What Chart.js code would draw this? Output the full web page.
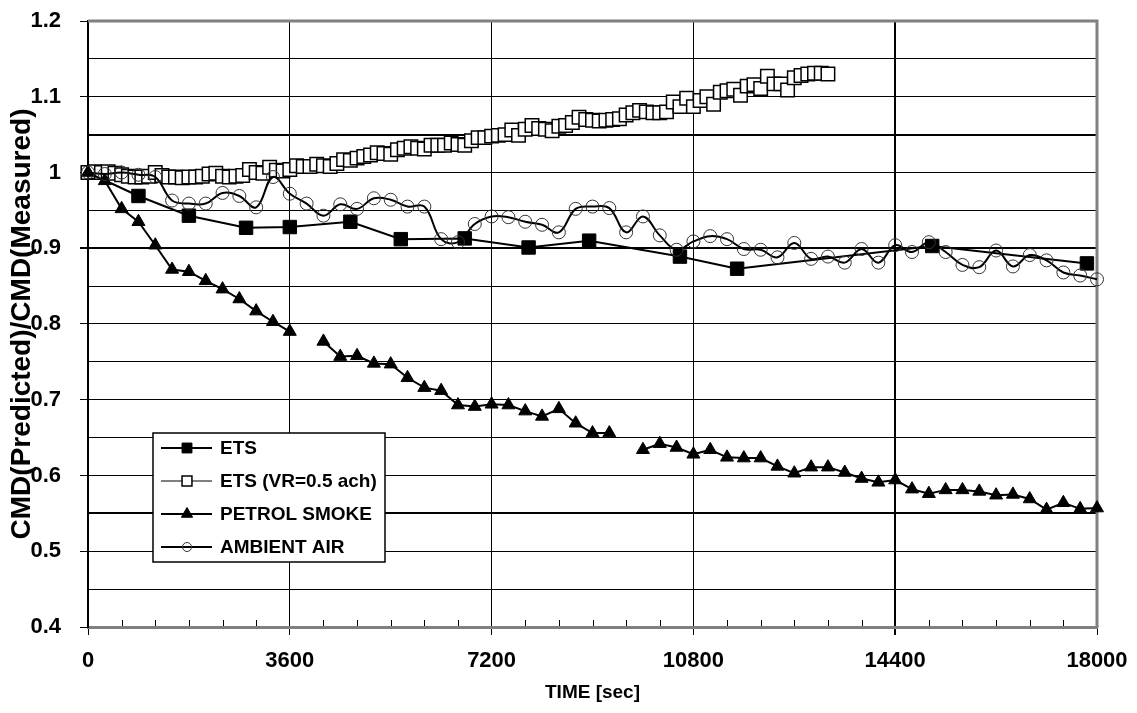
<!DOCTYPE html>
<html>
<head>
<meta charset="utf-8">
<script src="https://cdn.jsdelivr.net/npm/chart.js@4.4.1/dist/chart.umd.min.js"></script>
<style>
  html, body { margin: 0; padding: 0; background: #fff; }
  #wrap { width: 1137px; height: 713px; }
</style>
</head>
<body>
<div id="wrap"><canvas id="chart" width="1137" height="713"></canvas></div>
<script>
// series labels, as in the legend
var seriesNames = ["ETS", "ETS (VR=0.5 ach)", "PETROL SMOKE", "AMBIENT AIR"];

// ETS (filled squares) - irregular sample times
var etsTime = [0, 900, 1800, 2820, 3600, 4680, 5580, 6720, 7860, 8940, 10560, 11580, 15060, 17820];
var etsVal  = [1.000, 0.969, 0.943, 0.927, 0.928, 0.935, 0.912, 0.913, 0.901, 0.910, 0.889, 0.873, 0.903, 0.880];

// ETS (VR=0.5 ach) - open squares, read every 120 s
var etsVrTime = [0, 120, 240, 360, 480, 600, 720, 840, 960, 1080,
  1200, 1320, 1440, 1560, 1680, 1800, 1920, 2040, 2160, 2280,
  2400, 2520, 2640, 2760, 2880, 3000, 3120, 3240, 3360, 3480,
  3600, 3720, 3840, 3960, 4080, 4200, 4320, 4440, 4560, 4680,
  4800, 4920, 5040, 5160, 5280, 5400, 5520, 5640, 5760, 5880,
  6000, 6120, 6240, 6360, 6480, 6600, 6720, 6840, 6960, 7080,
  7200, 7320, 7440, 7560, 7680, 7800, 7920, 8040, 8160, 8280,
  8400, 8520, 8640, 8760, 8880, 9000, 9120, 9240, 9360, 9480,
  9600, 9720, 9840, 9960, 10080, 10200, 10320, 10440, 10560, 10680,
  10800, 10920, 11040, 11160, 11280, 11400, 11520, 11640, 11760, 11880,
  12000, 12120, 12240, 12360, 12480, 12600, 12720, 12840, 12960, 13080, 13200];
var etsVrVal = [1.000, 1.001, 1.000, 1.001, 0.999, 0.997, 0.995, 0.994, 0.994, 0.995,
  1.000, 0.996, 0.994, 0.994, 0.993, 0.994, 0.994, 0.995, 0.998, 0.999,
  0.995, 0.994, 0.995, 0.996, 1.004, 1.000, 0.999, 1.007, 1.003, 1.002,
  1.004, 1.009, 1.008, 1.008, 1.011, 1.009, 1.008, 1.012, 1.017, 1.016,
  1.019, 1.021, 1.023, 1.026, 1.025, 1.024, 1.030, 1.032, 1.034, 1.032,
  1.031, 1.036, 1.036, 1.036, 1.039, 1.037, 1.036, 1.042, 1.046, 1.046,
  1.048, 1.049, 1.050, 1.056, 1.049, 1.057, 1.062, 1.058, 1.057, 1.055,
  1.061, 1.062, 1.066, 1.073, 1.070, 1.069, 1.068, 1.069, 1.070, 1.071,
  1.076, 1.079, 1.082, 1.080, 1.079, 1.079, 1.080, 1.093, 1.087, 1.098,
  1.087, 1.095, 1.100, 1.090, 1.106, 1.108, 1.110, 1.102, 1.114, 1.116,
  1.111, 1.127, 1.117, 1.117, 1.109, 1.125, 1.128, 1.130, 1.131, 1.131, 1.130];

// PETROL SMOKE (triangles), every 300 s, null = missing reading
var petrolTime = [0, 300, 600, 900, 1200, 1500, 1800, 2100, 2400, 2700,
  3000, 3300, 3600, 3900, 4200, 4500, 4800, 5100, 5400, 5700,
  6000, 6300, 6600, 6900, 7200, 7500, 7800, 8100, 8400, 8700,
  9000, 9300, 9600, 9900, 10200, 10500, 10800, 11100, 11400, 11700,
  12000, 12300, 12600, 12900, 13200, 13500, 13800, 14100, 14400, 14700,
  15000, 15300, 15600, 15900, 16200, 16500, 16800, 17100, 17400, 17700, 18000];
var petrolVal = [1.000, 0.989, 0.952, 0.935, 0.904, 0.872, 0.869, 0.857, 0.846, 0.833,
  0.817, 0.803, 0.790, null, 0.777, 0.757, 0.758, 0.748, 0.747, 0.729,
  0.716, 0.712, 0.693, 0.691, 0.694, 0.693, 0.685, 0.678, 0.688, 0.669,
  0.656, 0.656, null, 0.634, 0.642, 0.637, 0.628, 0.634, 0.624, 0.623,
  0.623, 0.612, 0.603, 0.611, 0.611, 0.604, 0.596, 0.591, 0.594, 0.582,
  0.576, 0.581, 0.581, 0.579, 0.574, 0.575, 0.569, 0.555, 0.564, 0.556, 0.557];

// AMBIENT AIR (open circles), every 300 s
var ambientTime = [0, 300, 600, 900, 1200, 1500, 1800, 2100, 2400, 2700,
  3000, 3300, 3600, 3900, 4200, 4500, 4800, 5100, 5400, 5700,
  6000, 6300, 6600, 6900, 7200, 7500, 7800, 8100, 8400, 8700,
  9000, 9300, 9600, 9900, 10200, 10500, 10800, 11100, 11400, 11700,
  12000, 12300, 12600, 12900, 13200, 13500, 13800, 14100, 14400, 14700,
  15000, 15300, 15600, 15900, 16200, 16500, 16800, 17100, 17400, 17700, 18000];
var ambientVal = [1.000, 0.998, 1.000, 0.997, 0.994, 0.963, 0.959, 0.959, 0.973, 0.969,
  0.954, 0.994, 0.972, 0.959, 0.943, 0.958, 0.952, 0.966, 0.964, 0.955,
  0.955, 0.912, 0.908, 0.932, 0.942, 0.941, 0.935, 0.931, 0.921, 0.952,
  0.955, 0.953, 0.921, 0.942, 0.917, 0.898, 0.909, 0.916, 0.912, 0.899,
  0.898, 0.888, 0.907, 0.886, 0.889, 0.881, 0.899, 0.881, 0.904, 0.895,
  0.908, 0.895, 0.878, 0.875, 0.897, 0.876, 0.891, 0.884, 0.868, 0.864, 0.859];

// axis settings
var xMin = 0, xMax = 18000, xMajor = 3600, xMinor = 600;
var yMin = 0.4, yMax = 1.2, yGridStep = 0.05;
var yBoldLines = [1.05, 0.9, 0.55];
var xBoldLines = [14400];

var FONT = "'Liberation Sans', Arial, sans-serif";

function pairs(xs, ys) {
  var out = [];
  for (var i = 0; i < xs.length; i++) {
    out.push({ x: xs[i], y: ys[i] });
  }
  return out;
}

function isOn(v, list) {
  for (var i = 0; i < list.length; i++) {
    if (Math.abs(v - list[i]) < 1e-6) return true;
  }
  return false;
}

// white legend box inside the plot, plus the gray frame and minor x ticks
var extras = {
  id: 'extras',
  beforeDatasetsDraw: function(chart) {
    var ctx = chart.ctx, a = chart.chartArea;
    ctx.save();
    var xs = chart.scales.x;
    ctx.strokeStyle = '#000';
    ctx.lineWidth = 1;
    xs.ticks.forEach(function(t) {
      if (t.value % xMajor !== 0) {
        var px = Math.round(xs.getPixelForValue(t.value)) + 0.5;
        ctx.beginPath();
        ctx.moveTo(px, a.bottom - 1);
        ctx.lineTo(px, a.bottom - 7);
        ctx.stroke();
      }
    });
    ctx.strokeStyle = '#808080';
    ctx.lineWidth = 3;
    ctx.beginPath();
    ctx.moveTo(a.left, a.top);
    ctx.lineTo(a.right, a.top);
    ctx.lineTo(a.right, a.bottom + 1);
    ctx.stroke();
    ctx.restore();
  },
  afterDraw: function(chart) {
    var ctx = chart.ctx;
    var bx = 153, by = 433, bw = 232, bh = 129;
    ctx.save();
    ctx.fillStyle = '#fff';
    ctx.fillRect(bx, by, bw, bh);
    ctx.strokeStyle = '#000';
    ctx.lineWidth = 1.5;
    ctx.strokeRect(bx, by, bw, bh);
    var rowY = [448, 481, 514, 547];
    var legR = [7, 7, 6.5, 4.5];
    chart.data.datasets.forEach(function(ds, i) {
      var y = rowY[i];
      ctx.strokeStyle = '#000';
      ctx.lineWidth = ds.borderWidth;
      ctx.beginPath();
      ctx.moveTo(161, y);
      ctx.lineTo(212, y);
      ctx.stroke();
      ctx.fillStyle = ds.pointBackgroundColor;
      ctx.strokeStyle = ds.pointBorderColor;
      ctx.lineWidth = ds.pointBorderWidth;
      Chart.helpers.drawPoint(ctx, {
        pointStyle: ds.pointStyle, radius: legR[i], rotation: 0, borderWidth: ds.pointBorderWidth
      }, 187, y);
      ctx.fillStyle = '#000';
      ctx.font = 'bold 19px ' + FONT;
      ctx.textBaseline = 'middle';
      ctx.textAlign = 'left';
      ctx.fillText(ds.label, 220, y + 1);
    });
    ctx.restore();
  }
};

var ctx = document.getElementById('chart').getContext('2d');
var chart = new Chart(ctx, {
  type: 'line',
  data: {
    datasets: [
      {
        label: seriesNames[0],
        data: pairs(etsTime, etsVal),
        borderColor: '#000',
        borderWidth: 2,
        pointStyle: 'rect',
        pointRadius: 9.5,
        pointBackgroundColor: '#000',
        pointBorderColor: '#000',
        pointBorderWidth: 1,
        tension: 0,
        order: 4,
        clip: false
      },
      {
        label: seriesNames[1],
        data: pairs(etsVrTime, etsVrVal),
        borderColor: '#000',
        borderWidth: 1,
        pointStyle: 'rect',
        pointRadius: 9.5,
        pointBackgroundColor: '#fff',
        pointBorderColor: '#000',
        pointBorderWidth: 1.5,
        tension: 0,
        order: 3,
        clip: false
      },
      {
        label: seriesNames[2],
        data: pairs(petrolTime, petrolVal),
        borderColor: '#000',
        borderWidth: 2,
        pointStyle: 'triangle',
        pointRadius: 7.5,
        pointBackgroundColor: '#000',
        pointBorderColor: '#000',
        pointBorderWidth: 1,
        spanGaps: false,
        tension: 0,
        order: 2,
        clip: false
      },
      {
        label: seriesNames[3],
        data: pairs(ambientTime, ambientVal),
        borderColor: '#000',
        borderWidth: 2,
        pointStyle: 'circle',
        pointRadius: 6.5,
        pointBackgroundColor: 'rgba(0,0,0,0)',
        pointBorderColor: '#333',
        pointBorderWidth: 1,
        tension: 0.4,
        order: 1,
        clip: false
      }
    ]
  },
  options: {
    responsive: false,
    animation: false,
    devicePixelRatio: 1,
    layout: { padding: { top: 21, right: 40, left: 0, bottom: 0 } },
    plugins: {
      legend: { display: false },
      tooltip: { enabled: false }
    },
    scales: {
      x: {
        type: 'linear',
        min: xMin,
        max: xMax,
        afterFit: function(s) { s.height = 86; s.paddingLeft = 0; s.paddingRight = 0; },
        ticks: {
          stepSize: xMinor,
          autoSkip: false,
          maxRotation: 0,
          padding: 13,
          color: '#000',
          font: { family: FONT, size: 22, weight: 'bold' },
          callback: function(v) { return v % xMajor === 0 ? String(v) : ''; }
        },
        grid: {
          color: function(c) { return c.tick && c.tick.value % xMajor === 0 ? '#000' : 'rgba(0,0,0,0)'; },
          lineWidth: function(c) { return c.tick && isOn(c.tick.value, xBoldLines) ? 2 : 1; },
          tickColor: function(c) { return c.tick && c.tick.value % xMajor === 0 ? '#000' : 'rgba(0,0,0,0)'; },
          tickLength: 8
        },
        border: { color: '#808080', width: 3 },
        title: {
          display: true,
          text: 'TIME [sec]',
          color: '#000',
          font: { family: FONT, size: 19, weight: 'bold' },
          padding: { top: 0, bottom: 9 }
        }
      },
      y: {
        min: yMin,
        max: yMax,
        afterFit: function(s) { s.width = 88; s.paddingTop = 0; s.paddingBottom = 0; },
        ticks: {
          stepSize: yGridStep,
          autoSkip: false,
          padding: 19,
          color: '#000',
          font: { family: FONT, size: 22, weight: 'bold' },
          callback: function(v) {
            var h = Math.round(v * 100);
            return h % 10 === 0 ? String(h / 100) : '';
          }
        },
        grid: {
          color: '#000',
          lineWidth: function(c) { return c.tick && isOn(c.tick.value, yBoldLines) ? 2 : 1; },
          tickColor: function(c) { return c.tick && Math.round(c.tick.value * 100) % 10 === 0 ? '#000' : 'rgba(0,0,0,0)'; },
          tickLength: 8
        },
        border: { color: '#000', width: 2 },
        title: {
          display: true,
          text: 'CMD(Predicted)/CMD(Measured)',
          color: '#000',
          font: { family: FONT, size: 28, weight: 'bold' },
          padding: { top: 5, bottom: 0 }
        }
      }
    }
  },
  plugins: [extras]
});
</script>
</body>
</html>
